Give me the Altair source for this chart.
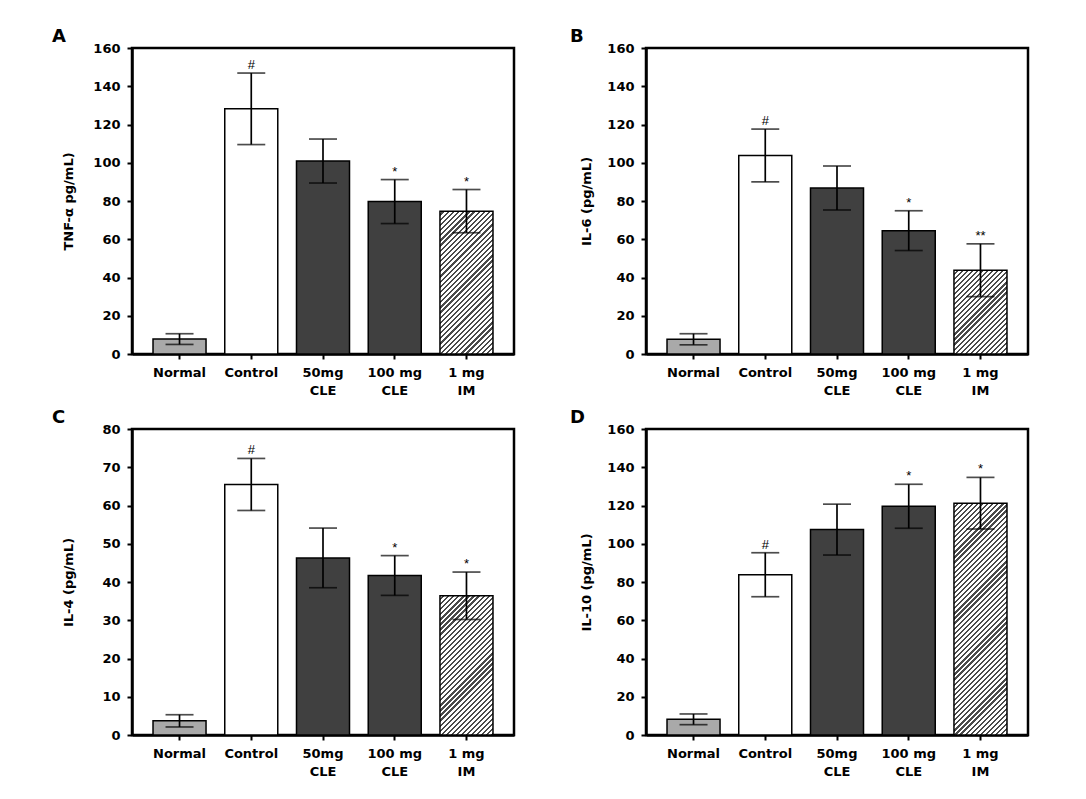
import math
import altair as alt
import pandas as pd

# ---------------- data ----------------
groups = ["Normal", "Control", "50mg|CLE", "100 mg|CLE", "1 mg|IM"]
kinds = ["normal", "control", "cle", "cle", "im"]

tnf_mean = [7.8, 128.2, 100.9, 79.7, 74.7]
tnf_sem = [2.8, 18.7, 11.5, 11.5, 11.3]
tnf_ann = ["", "#", "", "*", "*"]

il6_mean = [7.7, 103.8, 86.8, 64.5, 43.8]
il6_sem = [2.9, 13.8, 11.5, 10.4, 13.8]
il6_ann = ["", "#", "", "*", "**"]

il4_mean = [3.7, 65.5, 46.3, 41.7, 36.4]
il4_sem = [1.6, 6.8, 7.8, 5.2, 6.2]
il4_ann = ["", "#", "", "*", "*"]

il10_mean = [8.2, 83.8, 107.4, 119.6, 121.2]
il10_sem = [2.8, 11.5, 13.3, 11.5, 13.5]
il10_ann = ["", "#", "", "*", "*"]

# ---------------- style ----------------
W, H = 382, 306
FONT = "DejaVu Sans"
P_INNER, P_OUTER = 0.261, 0.293
GRAY, DARK = "#a9a9a9", "#404040"
HATCH = "#4a4a4a"


def hatch_fill(value, ymax):
    step = W / (5 - P_INNER + 2 * P_OUTER)
    w = step * (1 - P_INNER)
    h = value / ymax * H
    s = (w + h) / (w * w + h * h)
    period = 3.6
    n = max(1, int(round((w + h) / (period * math.sqrt(2)))))
    f = 0.56
    stops = []
    for k in range(n):
        stops += [
            {"offset": k / n, "color": "#ffffff"},
            {"offset": (k + f) / n, "color": "#ffffff"},
            {"offset": (k + f) / n, "color": HATCH},
            {"offset": (k + 1) / n, "color": HATCH},
        ]
    return {"gradient": "linear", "x1": 0, "y1": 0, "x2": s * w, "y2": s * h, "stops": stops}


def panel(letter, ytitle, means, sems, anns, ymax, ystep, title_x):
    df = pd.DataFrame({
        "group": groups,
        "kind": kinds,
        "mean": means,
        "lo": [m - s for m, s in zip(means, sems)],
        "hi": [m + s for m, s in zip(means, sems)],
        "ann": anns,
    })
    xenc = alt.X(
        "group:N", sort=groups, title=None,
        scale=alt.Scale(paddingInner=P_INNER, paddingOuter=P_OUTER),
        axis=alt.Axis(labelExpr="split(datum.label, '|')", labelAngle=0,
                      tickSize=5, labelPadding=7, labelLineHeight=18,
                      labelBaseline="top"),
    )
    yaxis = alt.Axis(values=list(range(0, ymax + 1, ystep)), tickSize=5,
                     labelPadding=7, titleX=title_x)
    yscale = alt.Scale(domain=[0, ymax], nice=False)

    def yenc(field):
        return alt.Y(field, scale=yscale, axis=yaxis, title=ytitle)

    base = alt.Chart(df)
    bars = base.transform_filter("datum.kind != 'im'").mark_bar(
        stroke="black", strokeWidth=1.5
    ).encode(
        x=xenc, y=yenc("mean:Q"),
        color=alt.Color("kind:N", legend=None,
                        scale=alt.Scale(domain=["normal", "control", "cle"],
                                        range=[GRAY, "#ffffff", DARK])),
    )
    im_val = means[4]
    im = base.transform_filter("datum.kind == 'im'").mark_bar(
        fill=hatch_fill(im_val, ymax), stroke="black", strokeWidth=1.5
    ).encode(x=xenc, y=yenc("mean:Q"))
    rule = base.mark_rule(color="black", strokeWidth=1.7).encode(
        x=xenc, y=yenc("lo:Q"), y2="hi:Q")
    caps = base.transform_fold(["lo", "hi"], as_=["which", "v"]).mark_tick(
        color="black", size=28, thickness=1.7
    ).encode(x=xenc, y=yenc("v:Q"))
    text = base.mark_text(baseline="bottom", dy=-1, font="Liberation Sans",
                          fontSize=13, color="black").encode(
        x=xenc, y=yenc("hi:Q"), text="ann:N")
    return alt.layer(bars, im, rule, caps, text).properties(
        width=W, height=H,
        title=alt.TitleParams(letter, anchor="start", font=FONT, fontSize=18,
                              fontWeight="bold", color="black", dx=-10,
                              offset=-4),
    )


a = panel("A", "TNF-α pg/mL)", tnf_mean, tnf_sem, tnf_ann, 160, 20, -57)
b = panel("B", "IL-6 (pg/mL)", il6_mean, il6_sem, il6_ann, 160, 20, -53)
c = panel("C", "IL-4 (pg/mL)", il4_mean, il4_sem, il4_ann, 80, 10, -57)
d = panel("D", "IL-10 (pg/mL)", il10_mean, il10_sem, il10_ann, 160, 20, -53)

chart = alt.concat(a, b, c, d, columns=2, spacing={"row": 75, "column": 132},
                   bounds="flush").properties(
    padding={"left": 42, "top": 18, "right": 5, "bottom": 5}
).configure_view(
    stroke="black", strokeWidth=2.5
).configure_axis(
    domainColor="black", domainWidth=2.5, tickColor="black", tickWidth=2,
    labelFont=FONT, labelFontWeight="bold", labelFontSize=13, labelColor="black",
    titleFont=FONT, titleFontWeight="bold", titleFontSize=13, titleColor="black",
    grid=False,
)

chart.save("out.html", embed_options={"renderer": "svg", "actions": False})
